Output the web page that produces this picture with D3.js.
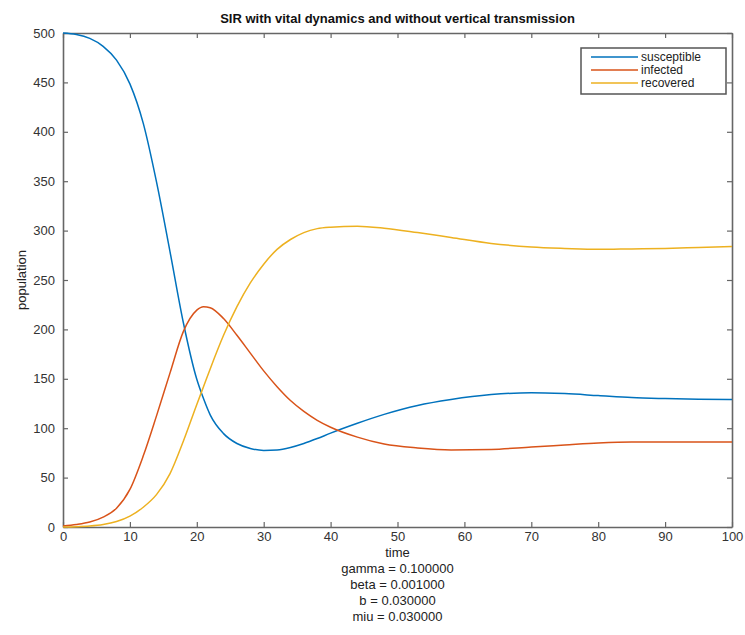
<!DOCTYPE html>
<html>
<head>
<meta charset="utf-8">
<script src="https://cdn.jsdelivr.net/npm/d3@7"></script>
<style>
  body { margin: 0; background: #fff; }
  text { font-family: "Liberation Sans", Arial, sans-serif; }
  .axis path, .axis line { stroke: #666; }
  .axis text { fill: #333; font-size: 13px; }
</style>
</head>
<body>
<script>
// values
var time        = [0, 2, 4, 6, 8, 10, 12, 14, 16, 18, 20, 21, 22, 24, 26, 28, 30, 32, 34, 36, 38, 40, 44, 48, 53, 58, 64, 70, 75, 80, 85, 90, 95, 100];
var susceptible = [500, 498.5, 494.5, 486.5, 472.5, 448.5, 408.5, 348.5, 278.5, 206.5, 149.5, 130, 113.5, 94.5, 84.5, 79.5, 77.5, 78, 80.5, 84.5, 89.5, 95, 105, 114, 123, 129, 134, 136, 135, 133, 131, 130, 129.3, 129];
var infected    = [1, 2.5, 5, 10, 19, 38, 72, 113, 156, 198, 219.5, 223, 222, 211, 194, 176, 158, 142, 128, 117, 108, 101, 91, 84, 80, 78, 78.5, 81, 83, 85, 86, 86, 86, 86];
var recovered   = [0, 0.3, 1, 2.5, 5.5, 11, 20, 33, 54, 87, 124, 142, 160, 194, 223, 247, 266, 281, 291, 298, 302, 303.5, 304.5, 302.5, 298, 293, 287, 283.5, 282, 281, 281.5, 282, 283, 284];

var seriesNames  = ["susceptible", "infected", "recovered"];
var seriesColors = ["#0072BD", "#D95319", "#EDB120"];
var xTicks = [0, 10, 20, 30, 40, 50, 60, 70, 80, 90, 100];
var yTicks = [0, 50, 100, 150, 200, 250, 300, 350, 400, 450, 500];
var params = ["gamma = 0.100000", "beta = 0.001000", "b = 0.030000", "miu = 0.030000"];

var margin = {top: 33, right: 13, bottom: 108, left: 63},
    width = 745 - margin.left - margin.right,
    height = 635 - margin.top - margin.bottom;

var svg = d3.select("body")
    .append("svg")
    .attr("width", 745)
    .attr("height", 635)
    .append("g")
    .attr("transform", "translate(" + margin.left + "," + margin.top + ")");

var x = d3.scaleLinear().domain([0, 100]).range([0, width]);
var y = d3.scaleLinear().domain([0, 500]).range([height, 0]);

// axes, ticks pointing inward like matlab
svg.append("g")
    .attr("class", "axis")
    .attr("transform", "translate(0," + height + ")")
    .call(d3.axisBottom(x).tickValues(xTicks).tickSizeInner(-5).tickSizeOuter(0).tickPadding(5));

svg.append("g")
    .attr("class", "axis")
    .call(d3.axisLeft(y).tickValues(yTicks).tickSizeInner(-5).tickSizeOuter(0).tickPadding(8));

svg.append("g")
    .attr("class", "axis")
    .call(d3.axisTop(x).tickValues(xTicks).tickSizeInner(-5).tickSizeOuter(0).tickFormat(""));

svg.append("g")
    .attr("class", "axis")
    .attr("transform", "translate(" + width + ",0)")
    .call(d3.axisRight(y).tickValues(yTicks).tickSizeInner(-5).tickSizeOuter(0).tickFormat(""));

svg.selectAll(".axis path").attr("stroke-width", 1.6);
svg.selectAll(".axis line").attr("stroke-width", 1.2);

var data = [susceptible, infected, recovered].map(function(vals, i) {
    return {
        name: seriesNames[i],
        color: seriesColors[i],
        values: vals.map(function(v, j) { return {t: time[j], v: v}; })
    };
});

var line = d3.line()
    .x(function(d) { return x(d.t); })
    .y(function(d) { return y(d.v); })
    .curve(d3.curveMonotoneX);

svg.append("g")
    .selectAll("path")
    .data(data)
    .enter()
        .append("path")
        .attr("fill", "none")
        .attr("stroke", function(d) { return d.color; })
        .attr("stroke-width", 1.5)
        .attr("d", function(d) { return line(d.values); });

// title and labels
svg.append("text")
    .attr("x", width / 2)
    .attr("y", -10)
    .attr("text-anchor", "middle")
    .attr("font-size", "13px")
    .attr("font-weight", "bold")
    .attr("fill", "#111")
    .text("SIR with vital dynamics and without vertical transmission");

svg.append("text")
    .attr("transform", "translate(-37," + (height / 2) + ") rotate(-90)")
    .attr("text-anchor", "middle")
    .attr("font-size", "13px")
    .attr("fill", "#222")
    .text("population");

svg.append("text")
    .attr("x", width / 2)
    .attr("y", height + 30)
    .attr("text-anchor", "middle")
    .attr("font-size", "13px")
    .attr("fill", "#222")
    .text("time");

svg.append("g")
    .selectAll("text")
    .data(params)
    .enter()
        .append("text")
        .attr("x", width / 2)
        .attr("y", function(d, i) { return height + 46 + i * 16; })
        .attr("text-anchor", "middle")
        .attr("font-size", "13px")
        .attr("fill", "#222")
        .text(function(d) { return d; });

// legend
var legend = svg.append("g")
    .attr("transform", "translate(" + (width - 151) + ",15)");

legend.append("rect")
    .attr("width", 145)
    .attr("height", 46)
    .attr("fill", "#fff")
    .attr("stroke", "#555")
    .attr("stroke-width", 1.5);

var item = legend.selectAll(".item")
    .data(data)
    .enter()
        .append("g")
        .attr("class", "item")
        .attr("transform", function(d, i) { return "translate(0," + (9 + i * 13) + ")"; });

item.append("line")
    .attr("x1", 10)
    .attr("x2", 57)
    .attr("stroke", function(d) { return d.color; })
    .attr("stroke-width", 1.5);

item.append("text")
    .attr("x", 60)
    .attr("dy", "0.35em")
    .attr("font-size", "12px")
    .attr("fill", "#222")
    .text(function(d) { return d.name; });
</script>
</body>
</html>
